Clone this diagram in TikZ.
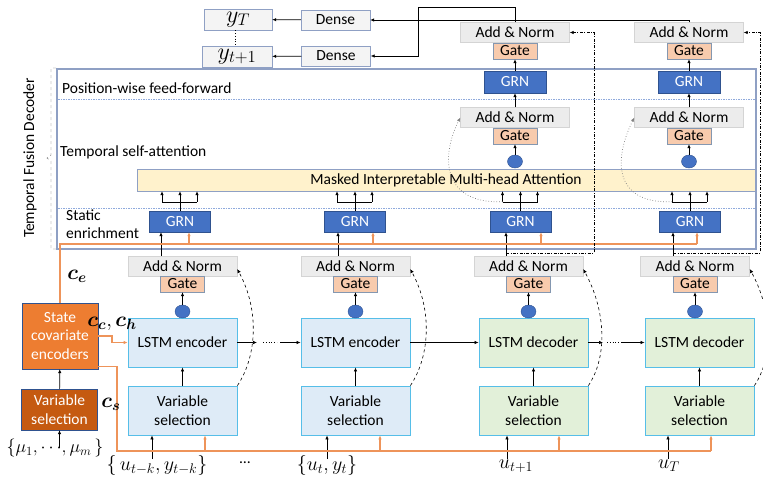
\RequirePackage{fix-cm}
\documentclass[tikz,border=0pt]{standalone}
\usepackage{fontspec}
\setmainfont{Carlito}
\usepackage{bm}
\usepackage{xcolor}
\definecolor{cellblue}{RGB}{222,235,247}
\definecolor{cellgreen}{RGB}{226,240,217}
\definecolor{cellline}{RGB}{86,190,232}
\definecolor{grnblue}{RGB}{68,114,196}
\definecolor{grnline}{RGB}{47,82,143}
\definecolor{gatefill}{RGB}{248,203,173}
\definecolor{gateline}{RGB}{132,151,176}
\definecolor{anfill}{RGB}{236,236,236}
\definecolor{attnfill}{RGB}{255,242,204}
\definecolor{frameline}{RGB}{143,160,196}
\definecolor{divblue}{RGB}{143,170,220}
\definecolor{sceorange}{RGB}{237,125,49}
\definecolor{svsorange}{RGB}{197,90,17}
\definecolor{orline}{RGB}{238,148,90}
\usepackage{tikz}
\usetikzlibrary{arrows.meta,shapes.geometric,positioning}

\newcommand\fsz[2]{\fontsize{#1}{#2}\selectfont}

\tikzset{
    box/.style={draw, inner sep=0pt, align=center},
    addnorm/.style={box, draw=anfill!90!black, fill=anfill, minimum width=109pt, minimum height=20pt},
    gatebox/.style={box, draw=gateline, fill=gatefill, minimum width=44pt, minimum height=16pt},
    grnbox/.style={box, draw=grnline, fill=grnblue, text=white, minimum width=61pt, minimum height=21pt},
    cellbox/.style={box, draw=cellline, line width=0.8pt, minimum width=109pt, minimum height=49pt},
    headdot/.style={ellipse, fill=grnblue, draw=grnline, minimum width=15pt, minimum height=13pt, inner sep=0pt},
    outbox/.style={box, draw=frameline, fill=anfill!60!white, minimum height=21pt, font=\fsz{24}{26}},
    densebox/.style={box, draw=frameline, fill=anfill!60!white, minimum width=69pt, minimum height=20pt},
    attnbar/.style={box, draw=frameline, fill=attnfill, minimum width=618pt, minimum height=22pt},
    staticbox/.style={box, draw=grnline, text=white, minimum width=76pt},
    lbl/.style={inner sep=0pt, anchor=west},
    mathlbl/.style={inner sep=0pt, font=\fsz{20}{22}},
    ctxlbl/.style={inner sep=0pt, font=\fsz{21}{23}},
    arr/.style={-{Latex[length=4pt,width=3.5pt]}, line width=0.7pt},
    orarr/.style={-{Latex[length=4pt,width=3.5pt]}, draw=orline, line width=1.1pt},
    orl/.style={draw=orline, line width=1.3pt},
    skipc/.style={-{Latex[length=4pt,width=3.5pt]}, dashed, line width=0.6pt},
    ddskip/.style={-{Latex[length=4pt,width=3.5pt]}, line width=0.6pt, dash pattern=on 3pt off 1.5pt on 0.8pt off 1.5pt},
    resid/.style={-{Latex[length=4pt,width=3.5pt]}, gray, dotted, line width=0.7pt},
}

\begin{document}
\begin{tikzpicture}[x=1pt,y=-1pt,font=\fsz{15.5}{18.5}]
    \useasboundingbox (0,0) rectangle (763,477);

    % decoder frame and its sections
    \draw[frameline, line width=1.2pt] (57,69) rectangle (756,249);
    \draw[divblue, dash pattern=on 1.5pt off 1pt] (58,99) -- (755,99);
    \draw[divblue, dash pattern=on 1.5pt off 1pt] (58,208) -- (755,208);
    \draw[gray!80!black, dashed] (56,68) -- (51,68) -- (51,155) -- (47,158) -- (51,161) -- (51,249) -- (56,249);
    \node[rotate=90] (tfdlab) at (30,158) {Temporal Fusion Decoder};
    \node[lbl] (lpff) at (62,88) {Position-wise feed-forward};
    \node[lbl] (lsa) at (60,152) {Temporal self-attention};
    \node[lbl, align=left] (lse) at (66,224) {Static\\enrichment};
    \node[attnbar] (attn) at (446,180) {Masked Interpretable Multi-head Attention};

    % outputs
    \node[outbox, minimum width=68pt] (yT) at (238,19.5) {$y_T$};
    \node[outbox, minimum width=70pt] (yt1) at (237,56.5) {$y_{t+1}$};
    \node[densebox] (dense1) at (335.5,20) {Dense};
    \node[densebox] (dense2) at (336,56) {Dense};
    \coordinate (ydots) at (235,38);
    \draw[arr] (dense1) -- (yT);
    \draw[arr] (dense2) -- (yt1);
    \draw[dotted, line width=0.8pt] (yT.south -| ydots) -- (yt1.north -| ydots);

    % static covariates
    \node[staticbox, fill=sceorange, minimum height=66pt] (sce) at (60,336) {State\\covariate\\encoders};
    \node[staticbox, fill=svsorange, minimum height=41pt] (svs) at (59.5,409.5) {Variable\\selection};
    \node[mathlbl, font=\fsz{18}{20}] (mu) at (55,448) {$\{\mu_1,\cdots\!,\mu_m\,\}$};
    \draw[arr] (svs) -- (sce);
    \draw[arr] (mu.center -| svs) -- (svs);

    % inputs
    \node[mathlbl] (in1) at (157,465) {$\{\,u_{t-k},y_{t-k}\}$};
    \node[mathlbl] (in2) at (327,465) {$\{u_t,y_t\}$};
    \node[mathlbl] (in3) at (516,466) {$u_{t+1}$};
    \node[mathlbl] (in4) at (669,466) {$u_T$};
    \node (dots) at (245,463) {\dots};

    % LSTM columns
    \foreach \n/\xl/\xa/\xg/\xb/\xo/\xs/\xin/\lab/\cell in {
        1/182.5/182.5/180/161/189/205/152/encoder/cellblue,
        2/355.5/355.5/355/338/373/380/327/encoder/cellblue,
        3/533.5/528.5/520.5/506/541/559/507/decoder/cellgreen,
        4/699.5/695/690/673/697/711/668/decoder/cellgreen} {
        \node[cellbox, fill=\cell] (vs\n) at (\xl,410.5) {Variable\\selection};
        \node[cellbox, fill=\cell] (lstm\n) at (\xl,342.5) {LSTM \lab};
        \node[headdot] (hd\n) at (\xa,311.5) {};
        \node[addnorm] (an\n) at (\xa,266) {Add \& Norm};
        \node[gatebox] (gate\n) at (\xa,284) {Gate};
        \node[grnbox] (sgrn\n) at (\xg,221.5) {GRN};
        \coordinate (b\n) at (\xb,250);
        \coordinate (o\n) at (\xo,244);
        \coordinate (s\n) at (\xs,451);
        \coordinate (x\n) at (\xin,459);
        \draw[arr] (vs\n) -- (lstm\n);
        \draw[arr] (hd\n) -- (gate\n);
        \draw[arr] (an\n.north -| b\n) -- (sgrn\n.south -| b\n);
        \draw[orarr] (o\n) -- (sgrn\n.south -| o\n);
        \draw[orarr] (s\n) -- (vs\n.south -| s\n);
        \draw[arr] (x\n) -- (vs\n.south -| x\n);
        \draw[skipc] (vs\n.north east) .. controls +(20,-30) and +(22,40) .. ([yshift=-3pt]an\n.east);
        % into the attention
        \draw[arr] (sgrn\n) -- (attn.south -| sgrn\n);
        \draw ([xshift=-18pt,yshift=9pt]sgrn\n.north) -- ([xshift=17pt,yshift=9pt]sgrn\n.north);
        \draw[arr] ([xshift=-18pt,yshift=9pt]sgrn\n.north) -- ([xshift=-18pt]sgrn\n.north |- attn.south);
        \draw[arr] ([xshift=17pt,yshift=9pt]sgrn\n.north) -- ([xshift=17pt]sgrn\n.north |- attn.south);
    }

    % between the LSTM cells
    \coordinate (gapa) at (270,342.5);
    \coordinate (gapb) at (614,342.5);
    \draw[arr] (lstm1) -- ([xshift=-13pt]gapa);
    \draw[dotted, line width=0.8pt] ([xshift=-7pt]gapa) -- ([xshift=7pt]gapa);
    \draw[arr] ([xshift=10pt]gapa) -- (lstm2);
    \draw[arr] (lstm2) -- (lstm3);
    \draw[arr] (lstm3) -- ([xshift=-11pt]gapb);
    \draw[dotted, line width=0.8pt] ([xshift=-7pt]gapb) -- ([xshift=7pt]gapb);
    \draw[arr] ([xshift=7pt]gapb) -- (lstm4);

    % static contexts
    \coordinate (cc) at (112,342.5);
    \coordinate (csl) at (117,451);
    \draw[orl] (sce.north) |- (o4);
    \draw[orarr] (sce.east) -| (cc) -- (lstm1.west);
    \draw[orl] ([yshift=3pt]sce.south east) -| (csl) -- (s4);
    \node[ctxlbl] (ce) at (77,276) {$\bm{c_e}$};
    \node[ctxlbl] (cch) at (112,324) {$\bm{c_c},\bm{c_h}$};
    \node[ctxlbl] (cs) at (111,404) {$\bm{c_s}$};

    % attention heads for the future steps
    \foreach \n/\xu/\xr in {3/515/594, 4/689/760} {
        \node[headdot] (ahd\n) at (\xu,161.5) {};
        \node[addnorm] (man\n) at (\xu,117.5) {Add \& Norm};
        \node[gatebox] (mgate\n) at (\xu,136) {Gate};
        \node[grnbox, minimum width=62pt, minimum height=22pt] (tgrn\n) at (\xu,82) {GRN};
        \node[addnorm] (tan\n) at (\xu,32.5) {Add \& Norm};
        \node[gatebox] (tgate\n) at (\xu,51) {Gate};
        \coordinate (dd\n) at (\xr,32.5);
        \draw[arr] (ahd\n) -- (mgate\n);
        \draw[arr] (man\n) -- (tgrn\n);
        \draw[arr] (tgrn\n) -- (tgate\n);
        \draw[resid] ([xshift=-18pt,yshift=9pt]sgrn\n.north) .. controls +(-60,2) and +(-20,40) .. (man\n.west);
        \draw[ddskip] ([yshift=3pt]an\n.north -| b\n) -| (dd\n) -- (tan\n.east);
    }

    % to the outputs
    \coordinate (k3) at (418,7);
    \draw[arr] (tan3.north) |- (k3) |- (dense2.east);
    \draw[arr] (tan4.north) |- (dense1.east);
\end{tikzpicture}
\end{document}
